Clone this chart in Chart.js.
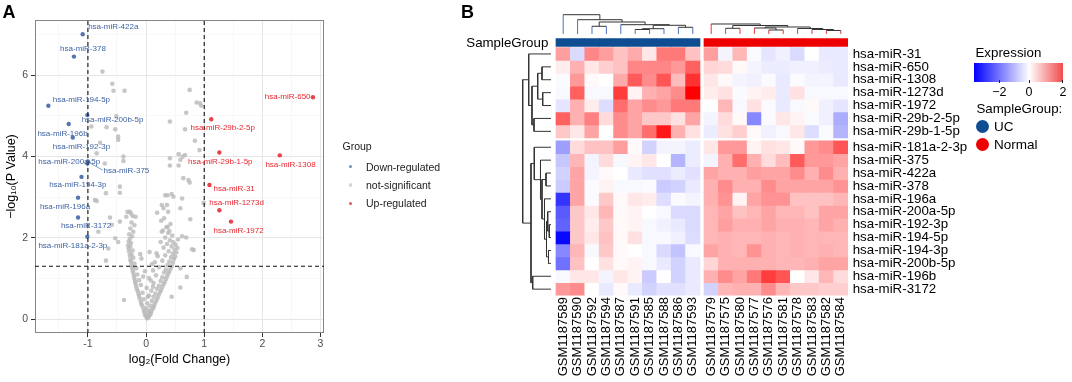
<!DOCTYPE html>
<html><head><meta charset="utf-8">
<script src="https://cdn.jsdelivr.net/npm/chart.js@4.4.1/dist/chart.umd.min.js"></script>
<style>
body{margin:0;background:#fff;font-family:"Liberation Sans",Arial,Helvetica,sans-serif;}
#wrap{position:relative;width:1072px;height:382px;overflow:hidden;background:#fff}
canvas{position:absolute;top:0}
.t{position:absolute;white-space:nowrap;line-height:1;color:#000}
.dot{position:absolute;border-radius:50%}
</style></head><body>
<div id="wrap">
<canvas id="volcano" width="450" height="382" style="left:0"></canvas>
<canvas id="heat" width="622" height="382" style="left:450px"></canvas>

<div class="t" style="left:2.5px;top:2.8px;font-size:18px;font-weight:bold">A</div>
<div class="t" style="left:461px;top:2.8px;font-size:18px;font-weight:bold">B</div>

<div class="t" style="left:342.5px;top:141.4px;font-size:10.5px;color:#1a1a1a">Group</div>
<div class="dot" style="left:348.9px;top:164.9px;width:3.6px;height:3.6px;background:#6f8cc0"></div>
<div class="dot" style="left:348.9px;top:183.2px;width:3.6px;height:3.6px;background:#d3d3d3"></div>
<div class="dot" style="left:348.9px;top:201.5px;width:3.6px;height:3.6px;background:#e05560"></div>
<div class="t" style="left:366px;top:161.6px;font-size:10.5px;color:#1a1a1a">Down-regulated</div>
<div class="t" style="left:366px;top:179.9px;font-size:10.5px;color:#1a1a1a">not-significant</div>
<div class="t" style="left:366px;top:198.2px;font-size:10.5px;color:#1a1a1a">Up-regulated</div>

<div class="t" style="right:523.7px;top:35.8px;font-size:13.3px;text-align:right">SampleGroup</div>

<div class="t" style="left:975.5px;top:46.2px;font-size:13.3px">Expression</div>
<div style="position:absolute;left:974.3px;top:63.3px;width:89px;height:19px;background:linear-gradient(to right,#0000ff 0%,#ffffff 62%,#f24a4a 100%)"></div>
<div style="position:absolute;left:999px;top:80px;width:1px;height:3px;background:#222"></div>
<div style="position:absolute;left:1028.5px;top:80px;width:1px;height:3px;background:#222"></div>
<div style="position:absolute;left:1062px;top:80px;width:1px;height:3px;background:#222"></div>
<div class="t" style="left:989.3px;width:20px;text-align:center;top:85.6px;font-size:12.5px">−2</div>
<div class="t" style="left:1019px;width:20px;text-align:center;top:85.6px;font-size:12.5px">0</div>
<div class="t" style="left:1053px;width:20px;text-align:center;top:85.6px;font-size:12.5px">2</div>
<div class="t" style="left:976.5px;top:101.8px;font-size:13.3px">SampleGroup:</div>
<div class="dot" style="left:976px;top:120px;width:13.4px;height:13.4px;background:#0e4d92"></div>
<div class="dot" style="left:976px;top:137.6px;width:13.4px;height:13.4px;background:#ee0000"></div>
<div class="t" style="left:994px;top:120.1px;font-size:13.5px">UC</div>
<div class="t" style="left:994px;top:137.7px;font-size:13.5px">Normal</div>
</div>

<script>
// ---------------- DATA: volcano ----------------
const downGenes = ['hsa-miR-422a','hsa-miR-378','hsa-miR-194-5p','hsa-miR-200b-5p','hsa-miR-196b','hsa-miR-192-3p','hsa-miR-200a-5p','hsa-miR-375','hsa-miR-194-3p','hsa-miR-196a','hsa-miR-3172','hsa-miR-181a-2-3p'];
const downLog2FC = [-1.09,-1.24,-1.68,-1.01,-1.33,-1.26,-1.01,-1.00,-1.11,-1.17,-1.17,-1.01];
const downNegLogP = [7.01,6.46,5.25,5.02,4.80,4.47,3.83,3.88,3.50,2.99,2.50,2.03];
const upGenes = ['hsa-miR-650','hsa-miR-29b-2-5p','hsa-miR-29b-1-5p','hsa-miR-1308','hsa-miR-31','hsa-miR-1273d','hsa-miR-1972'];
const upLog2FC = [2.87,1.12,1.26,2.30,1.09,1.26,1.46];
const upNegLogP = [5.46,4.92,4.10,4.03,3.30,2.68,2.40];
const notSigPoints = [
[-0.75,6.09],[-0.58,5.79],[-0.56,5.62],[-0.37,5.62],[0.75,5.64],[0.87,5.33],[0.93,5.31],[0.95,5.25],[0.69,5.08],[0.41,4.86],
[-0.51,5.00],[-0.68,4.72],[-0.53,4.67],[-0.94,4.74],[0.67,4.67],[-0.48,4.49],[-0.48,4.41],[0.84,4.39],[-0.79,4.34],[0.92,4.16],
[-0.85,4.08],[0.56,4.06],[0.63,4.00],[0.41,3.96],[0.59,3.92],[0.56,3.78],[0.41,3.78],[0.67,4.04],[-0.39,4.00],[-0.39,3.89],
[-0.71,3.83],[0.64,3.47],[0.73,3.42],[0.75,3.36],[-0.45,3.26],[-0.69,3.10],[0.33,3.05],[0.44,3.08],[0.47,3.01],[-0.85,2.91],
[0.62,2.97],[0.27,2.81],[0.36,2.81],[0.99,2.86],[0.59,2.73],[-0.32,2.64],[-0.26,2.60],[-0.23,2.54],[-0.34,2.52],[-0.62,2.50],
[0.76,2.46],[-0.53,1.99],[-0.48,1.90],[0.79,1.72],[-0.69,1.44],[0.59,0.78],[-0.38,0.47],[-0.45,3.11],[-0.88,2.93],[0.37,3.05],
[0.30,2.73],[0.38,2.64],[0.19,2.62],[-0.28,2.64],[0.37,2.27],[0.40,2.17],[0.27,2.15],[-0.59,2.32],[-0.45,2.40],[0.62,2.04],
[0.69,2.01],[-0.82,2.15],[-0.65,1.74],[0.82,1.70],[0.59,1.25],[0.70,1.04],[0.44,0.55],
[0.02,0.02],[0.04,0.05],[0.00,0.07],[0.06,0.09],[-0.02,0.11],[0.08,0.13],[0.03,0.15],[-0.03,0.17],[0.09,0.19],[0.05,0.21],
[-0.04,0.23],[0.11,0.25],[0.00,0.27],[0.13,0.29],[-0.06,0.31],[0.07,0.33],[0.14,0.35],[-0.08,0.37],[0.02,0.39],[0.16,0.41],
[-0.09,0.43],[0.10,0.45],[0.18,0.47],[-0.04,0.49],[-0.11,0.51],[0.20,0.53],[0.13,0.55],[-0.12,0.57],[0.05,0.58],[0.22,0.60],
[-0.13,0.62],[0.16,0.63],[-0.06,0.65],[0.24,0.67],[-0.14,0.69],[0.09,0.70],[0.26,0.72],[-0.16,0.74],[0.19,0.75],[0.01,0.77],
[0.28,0.79],[-0.17,0.81],[0.22,0.82],[-0.09,0.84],[0.30,0.86],[-0.18,0.88],[0.13,0.89],[0.32,0.91],[-0.19,0.93],[0.25,0.94],
[-0.12,0.96],[0.34,0.98],[-0.20,1.00],[0.05,1.01],[0.28,1.03],[0.36,1.05],[-0.21,1.07],[0.17,1.08],[-0.15,1.10],[0.38,1.12],
[-0.22,1.14],[0.31,1.15],[0.40,1.17],[-0.02,1.18],[-0.23,1.20],[0.34,1.22],[0.42,1.24],[-0.17,1.25],[-0.24,1.27],[0.22,1.28],
[0.44,1.30],[-0.25,1.32],[0.37,1.33],[0.10,1.35],[-0.20,1.37],[0.46,1.39],[-0.26,1.41],[0.40,1.42],[0.28,1.44],[-0.27,1.46],
[0.48,1.48],[-0.08,1.49],[-0.22,1.51],[0.43,1.52],[0.50,1.54],[-0.28,1.56],[0.33,1.57],[-0.25,1.59],[0.46,1.61],[0.18,1.62],
[0.52,1.64],[-0.29,1.66],[0.39,1.67],[-0.23,1.69],[0.49,1.71],[-0.30,1.73],[0.54,1.75],[0.30,1.76],[-0.27,1.78],[0.44,1.79],
[-0.31,1.81],[0.51,1.83],[0.36,1.85],[-0.26,1.87],[0.47,1.89],[-0.30,1.91],[0.41,1.94],[0.55,1.96],[-0.28,1.98],[0.33,2.01],
[-0.24,2.04],[0.45,2.06],[-0.29,2.09],[0.38,2.12],[-0.22,2.15],[0.29,2.18],[-0.27,2.23],[0.35,2.26],[-0.20,2.31],[0.42,2.34],
[-0.25,2.38],[0.26,2.42],[0.31,2.48],[-0.18,2.52],[0.08,0.95],[0.12,1.20],[0.20,1.55],[0.06,1.65],[0.25,1.90],[-0.10,1.60],
[0.15,1.40],[-0.05,1.05],[0.03,0.55],[0.12,0.80]
];
const fcCutoffs = [-1, 1];
const pCutoff = 1.301;
const volXTicks = [-1.5,-1,-0.5,0,0.5,1,1.5,2,2.5,3];
const volYTicks = [0,1,2,3,4,5,6,7];
// label placement (px offsets from point)
const downLabelDx = [30.6,9,33,25.2,-6.2,8.6,-18.1,38.5,-3.7,-13,8,-14.5];
const downLabelDy = [-7,-7.4,-6,4.3,9.3,9.4,-1.6,9.3,8.3,9,8.3,9.3];
const upLabelDx = [-25.3,11.5,1,10.7,24.7,17.2,7.6];
const upLabelDy = [0,8.7,9,9,3.3,-7.7,9];

// ---------------- DATA: heatmap ----------------
const colLabels = ['GSM1187589','GSM1187590','GSM1187592','GSM1187594','GSM1187587','GSM1187591','GSM1187585','GSM1187588','GSM1187586','GSM1187593',
                   'GSM1187579','GSM1187575','GSM1187580','GSM1187577','GSM1187576','GSM1187581','GSM1187578','GSM1187583','GSM1187582','GSM1187584'];
const colGroups = ['UC','UC','UC','UC','UC','UC','UC','UC','UC','UC','Normal','Normal','Normal','Normal','Normal','Normal','Normal','Normal','Normal','Normal'];
const rowLabels = ['hsa-miR-31','hsa-miR-650','hsa-miR-1308','hsa-miR-1273d','hsa-miR-1972','hsa-miR-29b-2-5p','hsa-miR-29b-1-5p',
                   'hsa-miR-181a-2-3p','hsa-miR-375','hsa-miR-422a','hsa-miR-378','hsa-miR-196a','hsa-miR-200a-5p','hsa-miR-192-3p',
                   'hsa-miR-194-5p','hsa-miR-194-3p','hsa-miR-200b-5p','hsa-miR-196b','hsa-miR-3172'];
const expr = [
[0.8,-0.5,1.0,0.8,0.5,0.7,0.2,1.1,1.1,0.5, 0.8,-0.15,0.6,-0.05,-0.35,-0.2,-0.5,0.0,-0.3,-0.3],
[0.15,0.65,0.2,0.4,0.5,1.0,1.0,1.0,0.85,1.3, 0.35,0.3,0.05,-0.15,-0.25,-0.25,-0.2,-0.2,-0.25,-0.3],
[-0.05,0.85,0.05,0.0,0.7,1.35,0.95,1.4,0.55,1.7, 0.2,0.05,-0.15,-0.2,-0.05,-0.3,-0.05,-0.15,-0.15,-0.3],
[-0.1,1.3,-0.1,-0.1,1.6,0.1,0.65,0.75,0.95,2.1, 0.15,0.25,-0.05,0.1,0.15,-0.3,0.25,-0.1,-0.1,-0.1],
[-0.35,0.65,0.15,-0.45,1.2,0.75,0.95,0.85,1.1,1.1, 0.0,0.6,-0.1,0.25,-0.05,-0.3,-0.1,0.05,-0.2,-0.35],
[1.3,0.65,1.05,0.3,0.95,0.75,0.45,0.45,0.25,0.75, -0.15,0.3,0.05,-1.6,-0.05,0.2,0.1,-0.05,-0.2,-1.1],
[0.45,0.2,0.75,0.0,0.95,0.75,1.2,1.9,0.65,0.25, -0.25,0.25,0.4,0.05,-0.2,-0.1,0.2,-0.45,-0.05,-1.0],
[-1.3,0.3,0.5,0.5,0.8,0.05,-0.6,-0.15,-0.15,-0.25, 0.2,0.85,0.85,0.1,0.25,0.2,0.05,0.85,0.95,1.4],
[-0.75,0.6,-0.15,0.3,-0.1,0.1,0.2,0.0,-1.0,-0.25, -0.15,0.65,1.2,0.65,0.3,0.55,1.35,0.85,0.85,0.75],
[-0.6,0.75,-0.15,0.05,0.0,-0.3,-0.4,-0.4,-0.25,-0.4, 0.75,0.65,0.65,0.8,0.75,0.75,0.95,0.65,0.95,0.65],
[-0.7,0.75,-0.05,0.1,-0.1,-0.1,-0.05,-0.7,-0.6,-0.3, 0.65,0.95,0.65,0.65,0.95,0.75,0.75,0.75,0.75,0.9],
[-2.7,0.75,-0.05,0.45,0.05,0.2,0.15,-0.45,-0.05,-0.15, 0.65,0.9,0.1,0.75,0.9,0.9,0.5,0.5,0.5,0.6],
[-2.2,0.45,0.2,0.6,0.05,0.1,0.0,-0.1,-0.5,-0.5, 0.6,0.75,0.5,0.6,0.75,0.6,0.6,0.5,0.75,0.75],
[-2.1,0.45,0.15,0.45,0.05,0.1,-0.1,-0.2,-0.3,-0.5, 0.6,0.8,0.65,0.65,0.75,0.65,0.65,0.6,0.75,0.65],
[-3.3,0.45,0.2,0.5,0.05,0.25,-0.1,-0.1,-0.2,-0.45, 0.6,0.65,0.6,0.6,0.65,0.6,0.65,0.6,0.6,0.6],
[-1.6,0.6,-0.1,0.45,0.05,0.0,-0.1,-0.5,-0.8,-0.1, 0.75,0.65,0.6,0.9,0.65,0.6,0.65,0.6,0.65,0.6],
[-1.9,0.5,0.0,0.25,0.05,0.1,-0.1,-0.3,-0.6,-0.3, 0.35,0.65,0.65,0.65,0.65,0.6,0.6,0.65,0.75,0.75],
[-0.1,0.2,0.2,-0.15,0.2,0.1,-0.7,0.0,-0.6,-0.3, 0.65,0.95,0.75,1.1,1.6,1.4,0.0,0.2,0.6,0.3],
[0.85,0.95,0.0,-0.3,0.05,-0.3,-0.6,-0.4,-0.4,-0.3, -0.6,0.6,0.65,0.65,0.95,0.6,0.45,0.45,0.4,0.4]
];
// dendrograms in hclust style: negative = leaf (1-based within group), positive = earlier merge; third = height
const ucTree = [[-9,-10,6.7],[-6,-7,4.5],[2,-8,5.3],[3,1,8.7],[-5,4,9.3],[-3,-4,7.7],[6,5,12],[-2,7,14.3],[-1,8,19.3]];
const normalTree = [[-9,-10,3.5],[-8,1,4.5],[-7,2,5.5],[-5,-6,4],[-4,4,6],[5,3,7],[-2,-3,5.7],[7,6,8.5],[-1,8,10]];
const rowTree = [[-2,-3,9],[-4,-5,8.3],[1,2,13.3],[-6,-7,17],[3,4,19],[-1,5,22.3],
  [-14,-15,1.7],[-13,7,3.3],[-16,-17,2.5],[8,9,4.5],[-12,10,6.5],[-10,-11,5],[12,11,9],[-9,13,10.5],[-8,14,16.7],
  [-18,-19,18.3],[15,16,20],[6,17,28.3]];

// ---------------- layout constants ----------------
const COL_GAP = 0.278, ROW_GAP = 0.233;
const HX_MIN = -7.86, HX_MAX = 19.778, HY_MIN = -4.182, HY_MAX = 18.733;
const COL_PX = 14.4, ROW_PX = 12.9;
const ROW_LEAF_X = -0.847, COL_LEAF_Y = -1.547;
const SG_TOP = -1.182, SG_BOTTOM = -0.593;
const VX_MIN = -1.91, VX_MAX = 3.06, VY_MIN = -0.34, VY_MAX = 7.36;

Chart.defaults.font.family = '"Liberation Sans", Arial, Helvetica, sans-serif';
Chart.defaults.color = '#000';

// ---------------- Volcano ----------------
const panelBorder = {
  id:'panelBorder',
  beforeDatasetsDraw(chart){
    const {ctx, chartArea:a} = chart;
    ctx.save(); ctx.strokeStyle='#858585'; ctx.lineWidth=1;
    ctx.strokeRect(Math.round(a.left)+0.5, Math.round(a.top)+0.5, Math.round(a.width)-1, Math.round(a.height)-1);
    ctx.restore();
  }
};
const geneLabels = {
  id:'geneLabels',
  afterDatasetsDraw(chart){
    const {ctx, scales:{x,y}} = chart;
    ctx.save();
    ctx.font = '8px "Liberation Sans", Arial, sans-serif';
    ctx.textAlign='center'; ctx.textBaseline='middle';
    downGenes.forEach((g,i)=>{
      const px=x.getPixelForValue(downLog2FC[i]), py=y.getPixelForValue(downNegLogP[i]);
      if (g==='hsa-miR-375'){
        ctx.strokeStyle='#4a6aa5'; ctx.lineWidth=0.7;
        ctx.beginPath(); ctx.moveTo(px+2,py+1.5); ctx.lineTo(px+14.5,py+8.5); ctx.stroke();
      }
      ctx.fillStyle='#3f63a3';
      ctx.fillText(g, px+downLabelDx[i], py+downLabelDy[i]);
    });
    upGenes.forEach((g,i)=>{
      const px=x.getPixelForValue(upLog2FC[i]), py=y.getPixelForValue(upNegLogP[i]);
      ctx.fillStyle='#e8262e';
      ctx.fillText(g, px+upLabelDx[i], py+upLabelDy[i]);
    });
    ctx.restore();
  }
};
const isMajorX = v => Number.isInteger(v);
const isMajorY = v => v % 2 === 0;
new Chart(document.getElementById('volcano'), {
  type:'scatter',
  data:{datasets:[
    {type:'line',label:'fcLow',data:[{x:fcCutoffs[0],y:VY_MIN},{x:fcCutoffs[0],y:VY_MAX}],borderColor:'#111',borderWidth:1.1,borderDash:[4,3],pointRadius:0,order:0},
    {type:'line',label:'fcHigh',data:[{x:fcCutoffs[1],y:VY_MIN},{x:fcCutoffs[1],y:VY_MAX}],borderColor:'#111',borderWidth:1.1,borderDash:[4,3],pointRadius:0,order:0},
    {type:'line',label:'p',data:[{x:VX_MIN,y:pCutoff},{x:VX_MAX,y:pCutoff}],borderColor:'#111',borderWidth:1.1,borderDash:[4,3],pointRadius:0,order:0},
    {label:'not-significant',data:notSigPoints.map(([x,y])=>({x,y})),backgroundColor:'rgba(185,185,185,0.8)',borderWidth:0,pointRadius:2.3,order:3},
    {label:'Down-regulated',data:downLog2FC.map((x,i)=>({x,y:downNegLogP[i]})),backgroundColor:'#5475ae',borderWidth:0,pointRadius:2.2,order:2},
    {label:'Up-regulated',data:upLog2FC.map((x,i)=>({x,y:upNegLogP[i]})),backgroundColor:'#e8424a',borderWidth:0,pointRadius:2.2,order:2}
  ]},
  options:{
    responsive:false, animation:false, events:[],
    layout:{padding:{top:20,right:126,left:0,bottom:0}},
    plugins:{legend:{display:false},tooltip:{enabled:false}},
    scales:{
      x:{type:'linear',min:VX_MIN,max:VX_MAX,bounds:'data',
        afterBuildTicks:a=>{a.ticks=volXTicks.map(v=>({value:v}));},
        afterFit:s=>{s.height=49;},
        ticks:{autoSkip:false,maxRotation:0,padding:1,color:'#4d4d4d',font:{size:10.5},callback:v=>isMajorX(v)?String(v):''},
        grid:{color:c=>c.tick&&isMajorX(c.tick.value)?'#e6e6e6':'#f3f3f3',lineWidth:c=>c.tick&&isMajorX(c.tick.value)?1:0.6,
              tickColor:c=>c.tick&&isMajorX(c.tick.value)?'#333':'rgba(0,0,0,0)',tickLength:4,drawTicks:true},
        border:{display:false},
        title:{display:true,text:'log₂(Fold Change)',font:{size:12.5},color:'#000',padding:{top:0,bottom:14.5}}
      },
      y:{type:'linear',min:VY_MIN,max:VY_MAX,bounds:'data',
        afterBuildTicks:a=>{a.ticks=volYTicks.map(v=>({value:v}));},
        afterFit:s=>{s.width=35;},
        ticks:{autoSkip:false,padding:3,color:'#4d4d4d',font:{size:10.5},callback:v=>isMajorY(v)?String(v):''},
        grid:{color:c=>c.tick&&isMajorY(c.tick.value)?'#e6e6e6':'#f3f3f3',lineWidth:c=>c.tick&&isMajorY(c.tick.value)?1:0.6,
              tickColor:c=>c.tick&&isMajorY(c.tick.value)?'#333':'rgba(0,0,0,0)',tickLength:4,drawTicks:true},
        border:{display:false},
        title:{display:true,text:'−log₁₀(P Value)',font:{size:12.5},color:'#000',padding:{top:4.5,bottom:0}}
      }
    }
  },
  plugins:[panelBorder,geneLabels]
});

// ---------------- Heatmap ----------------
const colPos = i => i + (colGroups[i]==='Normal' ? COL_GAP : 0);
const rowPos = j => j + (j >= 7 ? ROW_GAP : 0);
const colPositions = colLabels.map((_,i)=>colPos(i));
const rowPositions = rowLabels.map((_,j)=>rowPos(j));
function exprColor(v){
  if (v >= 0){ const t=Math.min(v/2.1,1); const g=Math.round(255*(1-t)); return `rgb(255,${g},${g})`; }
  const t=Math.min(-v/3.4,1); const r=Math.round(255*(1-t)); return `rgb(${r},${r},255)`;
}
const groupColor = {UC:'#0e4d92', Normal:'#ee0000'};

function buildDendro(merges, leafPositions, mapPoint, leafSink, darkSink){
  const nodes=[];
  const get = id => id<0 ? {pos:leafPositions[-id-1],h:0,leaf:true} : nodes[id-1];
  const brk = p => ({x:p.x,y:null});
  merges.forEach(([a,b,h])=>{
    const A=get(a), B=get(b);
    const p1=mapPoint(A.pos,h), p2=mapPoint(B.pos,h);
    darkSink.push(p1,p2,brk(p2));
    [A,B].forEach(c=>{
      const sink=c.leaf?leafSink:darkSink;
      const q1=mapPoint(c.pos,c.h), q2=mapPoint(c.pos,h);
      sink.push(q1,q2,brk(q2));
    });
    nodes.push({pos:(A.pos+B.pos)/2,h,leaf:false});
  });
}
const colMap = (pos,h)=>({x:pos, y:COL_LEAF_Y - h/ROW_PX});
const rowMap = (pos,h)=>({x:ROW_LEAF_X - h/COL_PX, y:pos});
const ucDark=[], ucLeaf=[], nDark=[], nLeaf=[], rDark=[];
buildDendro(ucTree, colPositions.slice(0,10), colMap, ucLeaf, ucDark);
buildDendro(normalTree, colPositions.slice(10), colMap, nLeaf, nDark);
buildDendro(rowTree, rowPositions, rowMap, rDark, rDark);

const lineDs = (data,color)=>({type:'line',data,borderColor:color,borderWidth:1,pointRadius:0,fill:false,spanGaps:false,tension:0});

const heatDatasets = expr.map((row,j)=>({
  type:'bar', label:rowLabels[j],
  data: row.map((v,i)=>({x:colPositions[i], y:[rowPositions[j]-0.5,rowPositions[j]+0.5]})),
  backgroundColor: row.map(exprColor), borderWidth:0, grouped:false, barPercentage:1, categoryPercentage:1
}));
heatDatasets.push({
  type:'bar', label:'SampleGroup',
  data: colPositions.map(x=>({x,y:[SG_TOP,SG_BOTTOM]})),
  backgroundColor: colGroups.map(g=>groupColor[g]), borderWidth:0, grouped:false, barPercentage:1, categoryPercentage:1
});
heatDatasets.push(lineDs(ucDark,'#333'), lineDs(ucLeaf,'#4a72b8'), lineDs(nDark,'#333'), lineDs(nLeaf,'#e83a3a'), lineDs(rDark,'#333'));

new Chart(document.getElementById('heat'), {
  type:'bar',
  data:{datasets:heatDatasets},
  options:{
    responsive:false, animation:false, events:[],
    layout:{padding:0},
    plugins:{legend:{display:false},tooltip:{enabled:false}},
    scales:{
      x:{type:'linear',min:HX_MIN,max:HX_MAX,offset:false,bounds:'data',
        afterBuildTicks:a=>{a.ticks=colPositions.map(v=>({value:v}));},
        afterFit:s=>{s.height=86.4;},
        ticks:{autoSkip:false,minRotation:90,maxRotation:90,padding:1.5,font:{size:13},color:'#000',callback:(v,i)=>colLabels[i]},
        grid:{display:false,drawTicks:false,offset:false}, border:{display:false}},
      y:{type:'linear',position:'right',reverse:true,min:HY_MIN,max:HY_MAX,offset:false,bounds:'data',
        afterBuildTicks:a=>{a.ticks=rowPositions.map(v=>({value:v}));},
        afterFit:s=>{s.width=224; s.paddingTop=0; s.paddingBottom=0;},
        ticks:{autoSkip:false,padding:4.7,font:{size:13.3,lineHeight:0.01},color:'#000',callback:(v,i)=>rowLabels[i]},
        grid:{display:false,drawTicks:false}, border:{display:false}}
    }
  }
});
</script>
</body></html>
